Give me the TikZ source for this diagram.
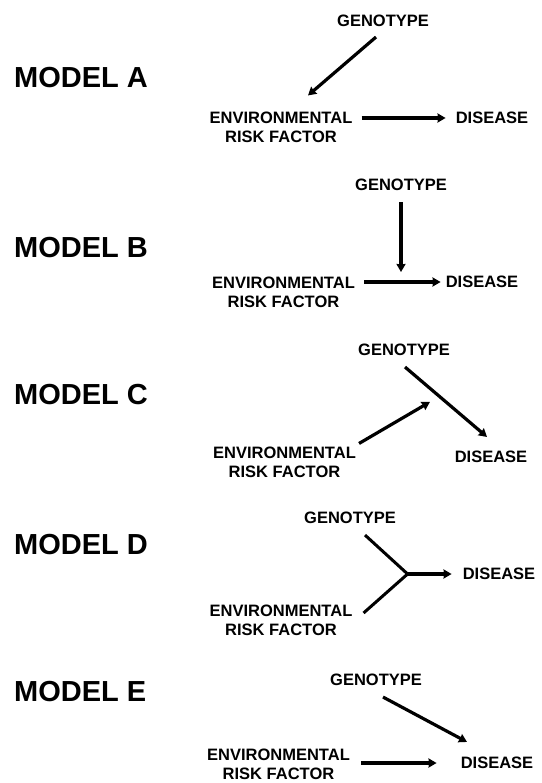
\documentclass[tikz,border=0pt]{standalone}
\usepackage{fontspec}
\setmainfont{Liberation Sans}
\usetikzlibrary{arrows.meta}
\tikzset{
  ->/.style={draw=black,line width=3.2pt,-{Stealth[length=8pt,width=9pt,inset=0.5pt]}},
  link/.style={draw=black,line width=3pt,line join=miter},
  model/.style={anchor=west,font=\fontsize{29}{34}\selectfont\bfseries}
}
\tikzstyle{every node}=[color=black,inner sep=0pt,align=center,font=\fontsize{16.5}{19}\selectfont\bfseries]

\begin{document}
\begin{tikzpicture}[x=1pt,y=-1pt]
    \useasboundingbox (0,0) rectangle (541,783);
    % model A
    \node[model] (mA) at (14,78) {MODEL A};
    \node (genoA) at (383,21) {GENOTYPE};
    \node (envA) at (281,127) {ENVIRONMENTAL\\RISK FACTOR};
    \node (disA) at (492,118) {DISEASE};
    \draw[->] ([xshift=-7pt,yshift=-10pt]genoA.south) -- ([xshift=27pt,yshift=16pt]envA.north);
    \draw[->,shorten <=9pt,shorten >=10pt] (envA.east |- disA.west) -- (disA.west);
    % model B
    \node[model] (mB) at (14,248) {MODEL B};
    \node (genoB) at (401,185) {GENOTYPE};
    \node (envB) at (283.5,292) {ENVIRONMENTAL\\RISK FACTOR};
    \node (disB) at (482,282) {DISEASE};
    \draw[->,shorten <=9pt,shorten >=5pt] (envB.east |- disB.west) -- (disB.west);
    \coordinate (jB) at (genoB.south |- disB.west);
    \draw[->,shorten <=11pt,shorten >=10pt] (genoB.south) -- (jB);
    % model C
    \node[model] (mC) at (14,395) {MODEL C};
    \node (genoC) at (404,350) {GENOTYPE};
    \node (envC) at (284.5,462) {ENVIRONMENTAL\\RISK FACTOR};
    \node (disC) at (491,457) {DISEASE};
    \draw[->] ([xshift=1pt,yshift=-11pt]genoC.south) -- coordinate[pos=0.42] (jC) ([xshift=-4pt,yshift=14pt]disC.north);
    \draw[->,shorten >=11pt] ([xshift=3pt,yshift=3pt]envC.north east) -- (jC);
    % model D
    \node[model] (mD) at (14,545) {MODEL D};
    \node (genoD) at (350,518) {GENOTYPE};
    \node (envD) at (281,620) {ENVIRONMENTAL\\RISK FACTOR};
    \node (disD) at (499,574) {DISEASE};
    \coordinate (jD) at ([xshift=-55pt]disD.west);
    \draw[link] ([xshift=15pt,yshift=-11pt]genoD.south) -- (jD) -- ([xshift=11pt,yshift=7pt]envD.east);
    \draw[->,shorten >=11pt] (jD) -- (disD.west);
    % model E
    \node[model] (mE) at (14,692) {MODEL E};
    \node (genoE) at (376,680) {GENOTYPE};
    \node (envE) at (278.5,764) {ENVIRONMENTAL\\RISK FACTOR};
    \node (disE) at (497,763) {DISEASE};
    \draw[->] ([xshift=7pt,yshift=-11pt]genoE.south) -- ([xshift=-30pt,yshift=15pt]disE.north);
    \draw[->,shorten <=11pt,shorten >=24pt] (envE.east |- disE.west) -- (disE.west);
\end{tikzpicture}
\end{document}
